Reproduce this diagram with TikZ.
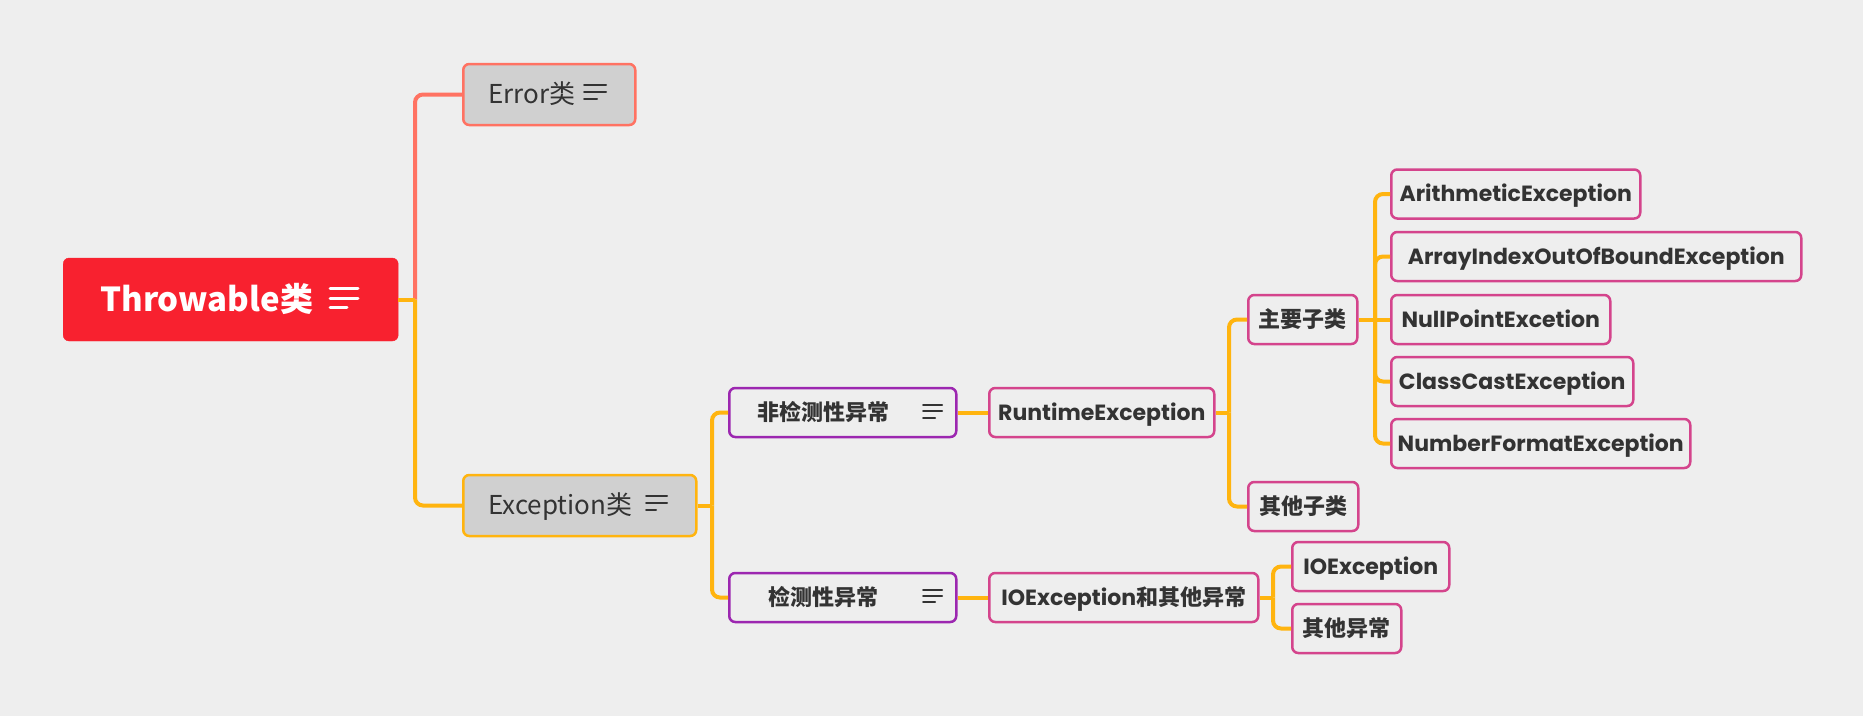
\documentclass[tikz,border=0pt]{standalone}
\usepackage{fontspec}
\setmainfont{Poppins}
\newfontfamily\cjk{Noto Sans CJK SC}
\hyphenpenalty=10000

\definecolor{paper}{HTML}{EEEEEE}
\definecolor{rootred}{HTML}{F8212F}
\definecolor{salmon}{HTML}{FF7262}
\definecolor{amber}{HTML}{FFB40F}
\definecolor{boxgrey}{HTML}{D0D0D0}
\definecolor{violet}{HTML}{9C27B0}
\definecolor{rose}{HTML}{D4448C}
\definecolor{ink}{HTML}{333333}

\tikzset{
  root/.style={fill=rootred, draw=rootred, rounded corners=6pt, anchor=west, align=left,
    text=white, font=\cjk\bfseries\fontsize{33}{40}\selectfont,
    inner xsep=37pt, minimum height=83pt, text height=24pt, text depth=0pt},
  grey/.style={fill=boxgrey, line width=2.5pt, rounded corners=6pt, anchor=west, align=left,
    text=ink, font=\cjk\fontsize{26}{30}\selectfont,
    inner xsep=25pt, minimum height=61pt, text height=18pt, text depth=0pt},
  kind/.style={draw=violet, line width=2.5pt, rounded corners=6pt, anchor=west, align=left,
    text=ink, font=\cjk\bfseries\fontsize{22}{26}\selectfont,
    minimum height=49pt, text height=16pt, text depth=0pt},
  leaf/.style={draw=rose, line width=2.5pt, rounded corners=6pt, anchor=west,
    text=ink, font=\bfseries\fontsize{22}{26}\selectfont,
    inner xsep=0pt, minimum height=49pt, text height=15.5pt, text depth=0pt},
  redline/.style={draw=salmon, line width=4pt, rounded corners=8pt},
  yline/.style={draw=amber, line width=4pt, rounded corners=8pt},
  noteicon/.style={line width=#1, line cap=round}
}

\begin{document}
\begin{tikzpicture}[x=1pt, y=-1pt]
        % Canvas
        \fill[paper] (0,0) rectangle (1863,716);
        \useasboundingbox (0,0) rectangle (1863,716);

        % Root topic
        \node[root, text width=261pt] (thr) at (63,299.5) {Throwable类};

        % Main branches
        \node[grey, draw=salmon, text width=122pt] (err) at (462,94.5) {Error类};
        \node[grey, draw=amber, text width=183pt] (exc) at (462,505.5) {Exception类};

        % Exception kinds
        \node[kind, text width=171pt, inner xsep=28pt] (unchk) at (728,412.5) {非检测性异常};
        \node[kind, text width=149pt, inner xsep=39pt] (chk) at (728,597.5) {检测性异常};

        % Subtopics
        \node[leaf, minimum width=225pt] (rte) at (988,412.5) {RuntimeException};
        \node[leaf, minimum width=269pt] (ioo) at (988,597.5) {IOException{\cjk 和其他异常}};
        \node[leaf, minimum width=109pt] (mainc) at (1247,319.5) {\cjk 主要子类};
        \node[leaf, minimum width=110pt] (otherc) at (1247,506.5) {\cjk 其他子类};
        \node[leaf, minimum width=249pt] (arith) at (1390,194) {ArithmeticException};
        \node[leaf, minimum width=410pt] (arr) at (1390,256.5) {ArrayIndexOutOfBoundException};
        \node[leaf, minimum width=219pt] (nulp) at (1390,319.5) {NullPointExcetion};
        \node[leaf, minimum width=242pt] (ccast) at (1390,381.5) {ClassCastException};
        \node[leaf, minimum width=299pt] (numf) at (1390,443.5) {NumberFormatException};
        \node[leaf, minimum width=157pt] (ioe) at (1291,566.5) {IOException};
        \node[leaf, minimum width=109pt] (otherx) at (1291,628.5) {\cjk 其他异常};

        % Branch points
        \coordinate (j0) at (415,299.5);
        \coordinate (j1) at (712,505.5);
        \coordinate (j2) at (1229,412.5);
        \coordinate (j3) at (1375,319.5);
        \coordinate (j4) at (1273,597.5);

        % Connectors
        \draw[redline] (j0) |- (err.west);
        \draw[yline] (j0) |- (exc.west);
        \draw[yline] (thr.east) -- (j0);

        \draw[yline] (exc.east) -- (j1);
        \draw[yline] (j1) |- (unchk.west);
        \draw[yline] (j1) |- (chk.west);

        \draw[yline] (unchk.east) -- (rte.west);
        \draw[yline] (chk.east) -- (ioo.west);

        \draw[yline] (rte.east) -- (j2);
        \draw[yline] (j2) |- (mainc.west);
        \draw[yline] (j2) |- (otherc.west);

        \draw[yline] (mainc.east) -- (j3);
        \draw[yline] (j3) |- (arith.west);
        \draw[yline] (j3) |- (arr.west);
        \draw[yline] (j3) -- (nulp.west);
        \draw[yline] (j3) |- (ccast.west);
        \draw[yline] (j3) |- (numf.west);

        \draw[yline] (ioo.east) -- (j4);
        \draw[yline] (j4) |- (ioe.west);
        \draw[yline] (j4) |- (otherx.west);

        % Note icons
        \draw[noteicon=3pt, white] (330,288) -- (358,288) (330,298) -- (358,298) (330,307) -- (347,307);
        \draw[noteicon=2pt, ink] (584,85) -- (606,85) (584,92) -- (606,92) (584,99) -- (597,99);
        \draw[noteicon=2pt, ink] (646,496) -- (667,496) (646,503) -- (667,503) (646,510) -- (656,510);
        \draw[noteicon=2pt, ink] (923,405) -- (942,405) (923,411) -- (942,411) (923,418) -- (935,418);
        \draw[noteicon=2pt, ink] (923,590) -- (942,590) (923,596) -- (942,596) (923,602) -- (935,602);

    \end{tikzpicture}
\end{document}
